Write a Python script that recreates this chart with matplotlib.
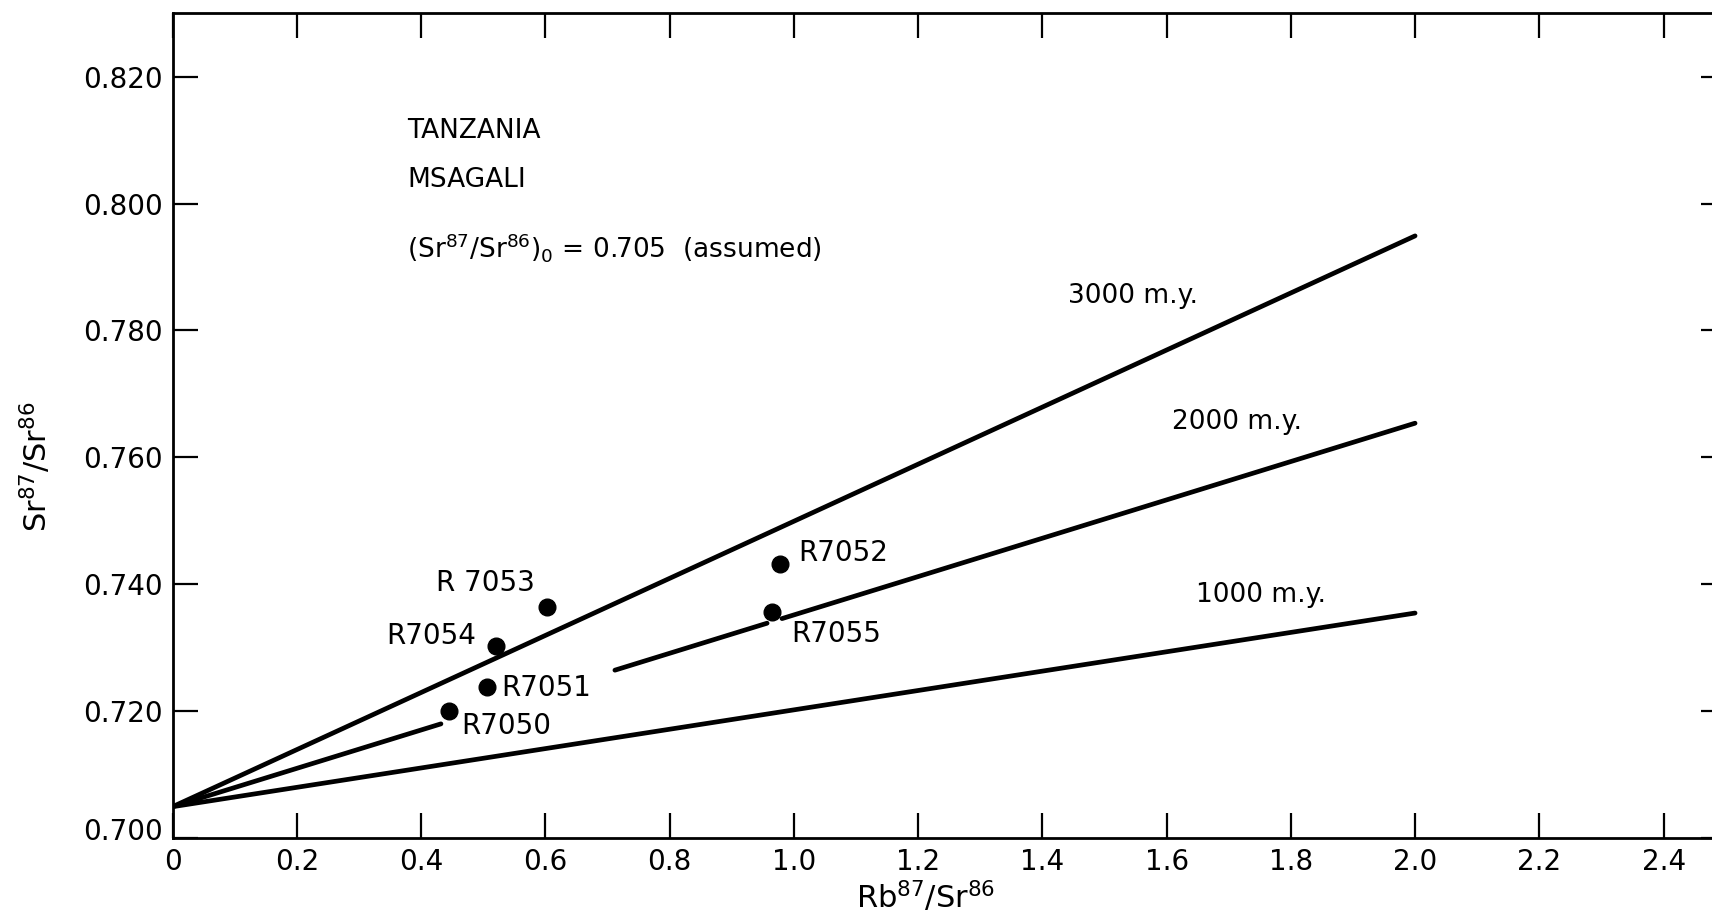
import matplotlib
matplotlib.use("Agg")
import matplotlib.pyplot as plt
import matplotlib.transforms as mtransforms

# Rb-Sr whole-rock data, Msagali (Tanzania)
sample_ids = ["R7050", "R7051", "R7052", "R 7053", "R7054", "R7055"]
rb_sr = [0.445, 0.506, 0.977, 0.603, 0.520, 0.965]
sr_sr = [0.7200, 0.7238, 0.7432, 0.7365, 0.7303, 0.7356]

# reference isochrons from the assumed initial ratio
initial_ratio = 0.705
iso_ages = ["1000 m.y.", "2000 m.y.", "3000 m.y."]
iso_x_end = 2.0
iso_y_end = [0.7355, 0.7654, 0.7949]
# the 2000 m.y. line is broken where the labels sit
iso2000_pieces = [(0.0, 0.432), (0.712, 0.957), (0.981, 2.0)]

x_ticks = [0, 0.2, 0.4, 0.6, 0.8, 1.0, 1.2, 1.4, 1.6, 1.8, 2.0, 2.2, 2.4]
x_tick_labels = ["0", "0.2", "0.4", "0.6", "0.8", "1.0", "1.2", "1.4",
                 "1.6", "1.8", "2.0", "2.2", "2.4"]
y_ticks = [0.700, 0.720, 0.740, 0.760, 0.780, 0.800, 0.820]
y_tick_labels = ["0.700", "0.720", "0.740", "0.760", "0.780", "0.800", "0.820"]

plt.rcParams["font.family"] = ["DejaVu Sans"]
plt.rcParams["mathtext.fontset"] = "dejavusans"

fig = plt.figure(figsize=(17.12, 9.23), dpi=100)
ax = fig.add_axes([0.1008, 0.0916, 0.9072, 0.8943])

def iso_y(x, y_end):
    return initial_ratio + (y_end - initial_ratio) * x / iso_x_end

for age, y_end in zip(iso_ages, iso_y_end):
    if age == "2000 m.y.":
        for x0, x1 in iso2000_pieces:
            ax.plot([x0, x1], [iso_y(x0, y_end), iso_y(x1, y_end)],
                    color="black", lw=3.4, solid_capstyle="round")
    else:
        ax.plot([0, iso_x_end], [initial_ratio, y_end],
                color="black", lw=3.4, solid_capstyle="round")

ax.plot(rb_sr, sr_sr, "o", color="black", ms=12, ls="none")

# sample labels, offsets in points from each dot
label_offsets = {
    "R7050": (8.6, -10.3, "left"),
    "R7051": (10.4, -0.7, "left"),
    "R7052": (13.4, 7.8, "left"),
    "R 7053": (-8.6, 16.8, "right"),
    "R7054": (-14, 7.3, "right"),
    "R7055": (14, -15.3, "left"),
}
for name, x, y in zip(sample_ids, rb_sr, sr_sr):
    dx, dy, ha = label_offsets[name]
    ax.annotate(name, (x, y), xytext=(dx, dy), textcoords="offset points",
                ha=ha, va="center", fontsize=20)

ax.text(1.441, 0.7854, "3000 m.y.", fontsize=19, ha="left", va="center")
ax.text(1.608, 0.7656, "2000 m.y.", fontsize=19, ha="left", va="center")
ax.text(1.647, 0.7383, "1000 m.y.", fontsize=19, ha="left", va="center")

ax.text(0.378, 0.8114, "TANZANIA", fontsize=19, ha="left", va="center")
ax.text(0.378, 0.8037, "MSAGALI", fontsize=19, ha="left", va="center")
ax.text(0.378, 0.7930,
        r"$(\mathrm{Sr}^{87}/\mathrm{Sr}^{86})_0$ = 0.705  (assumed)",
        fontsize=19, ha="left", va="center")

ax.set_xlim(0, 2.5)
ax.set_ylim(0.700, 0.830)
ax.set_xticks(x_ticks)
ax.set_xticklabels(x_tick_labels)
ax.set_yticks(y_ticks)
ax.set_yticklabels(y_tick_labels)
ax.tick_params(direction="in", length=18, width=1.6, labelsize=20,
               top=True, right=True, pad=7)
# lift the lowest y label off the corner
lbl0 = ax.get_yticklabels()[0]
lbl0.set_transform(lbl0.get_transform() +
                   mtransforms.ScaledTranslation(0, 7 / 72, fig.dpi_scale_trans))
for sp in ax.spines.values():
    sp.set_linewidth(2)

ax.set_xlabel(r"$\mathrm{Rb}^{87}/\mathrm{Sr}^{86}$", fontsize=22)
ax.set_ylabel(r"$\mathrm{Sr}^{87}/\mathrm{Sr}^{86}$", fontsize=22)
ax.xaxis.set_label_coords(0.485, -0.049)
ax.yaxis.set_label_coords(-0.077, 0.450)

fig.savefig("out.png", dpi=100)
plt.close(fig)
